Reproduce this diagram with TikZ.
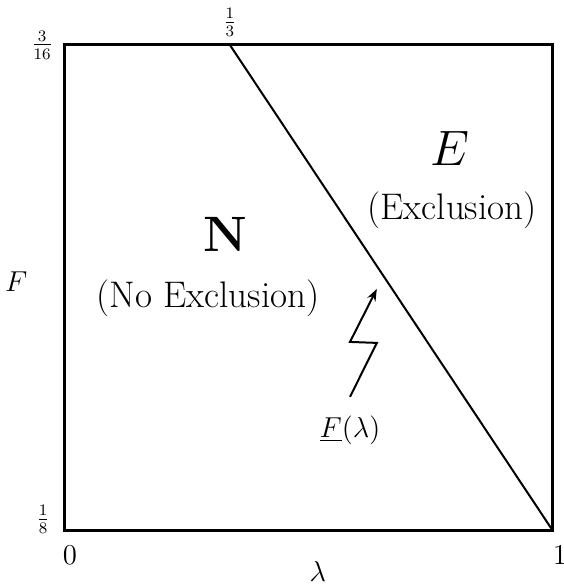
\documentclass[tikz,border=0pt]{standalone}
\usepackage{amsmath,amssymb}
\usetikzlibrary{arrows.meta,positioning}

\begin{document}
\begin{tikzpicture}[
    x=24.4pt, y=24.3pt,
    frame/.style={line width=1.5pt},
    bound/.style={line width=1pt},
    zig/.style={-{Stealth[length=6pt]}, line width=1pt},
    frac/.style={font=\large},
    lbl/.style={font=\fontsize{13.5}{16}\selectfont},
    region/.style={font=\fontsize{18.5}{22}\selectfont},
    big/.style={font=\fontsize{26}{30}\selectfont},
]
\useasboundingbox (-1.332,-1.132) rectangle (10.225,10.926);

% Square of admissible (lambda, F)
\draw[frame] (0,0) rectangle (10,10);

% Boundary F(lambda)
\coordinate (btop) at (3.38,10);
\coordinate (bbot) at (10,0);
\draw[bound] (btop) -- (bbot);

% Axis ticks
\node[frac] (tick316) at (-0.47,10) {$\frac{3}{16}$};
\node[frac] (tick18) at (-0.45,0.24) {$\frac{1}{8}$};
\node[frac] (tick13) at (3.38,10.46) {$\frac{1}{3}$};
\node[lbl] (tick0) at (0.1,-0.5) {$0$};
\node[lbl] (tick1) at (10.14,-0.5) {$1$};
\node[lbl] (xlab) at (5.18,-0.83) {$\lambda$};
\node[lbl] (ylab) at (-1.0,5.12) {$F$};

% Regions
\node[big] (nsym) at (3.28,6.1) {$\mathbf{N}$};
\node[region] (ntxt) at (2.93,4.79) {(No Exclusion)};
\node[big] (esym) at (7.89,7.86) {$E$};
\node[region] (etxt) at (7.93,6.6) {(Exclusion)};

% Pointer to the boundary
\node[lbl] (flab) at (5.84,2.08) {$\underline{F}(\lambda)$};
\coordinate (z0) at (5.84,2.76);
\coordinate (z1) at (6.39,3.87);
\coordinate (z2) at (5.84,3.89);
\coordinate (z3) at (6.39,4.98);
\draw[zig] (z0) -- (z1) -- (z2) -- (z3);
\end{tikzpicture}
\end{document}
